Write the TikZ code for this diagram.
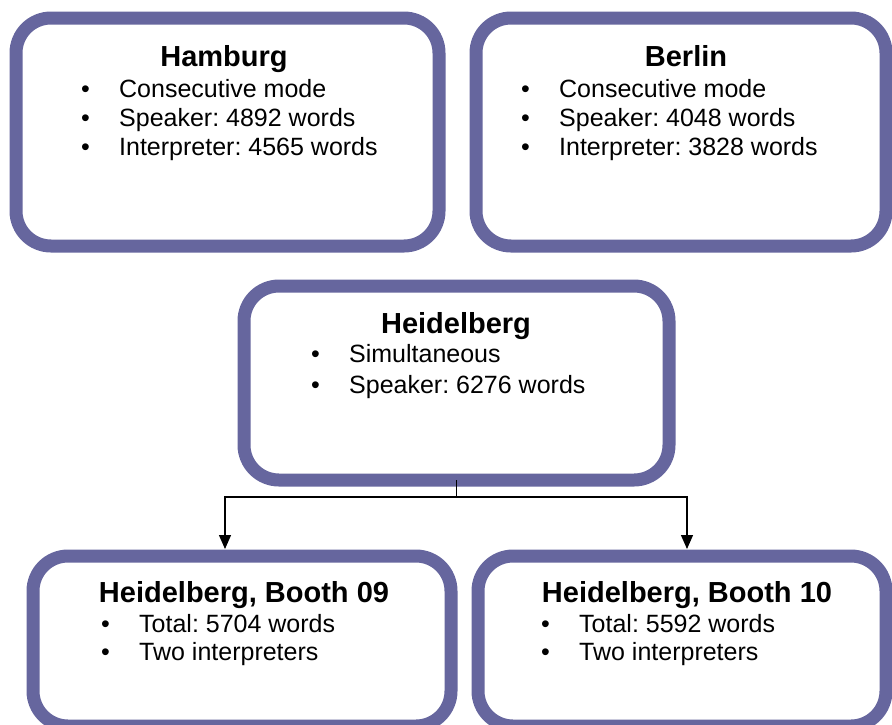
\documentclass[tikz,border=0pt]{standalone}
\usepackage{fontspec}
\setmainfont{Liberation Sans}
\usetikzlibrary{arrows.meta}
\definecolor{boxblue}{RGB}{102,102,158}
\frenchspacing
\tikzset{
  city/.style={draw=boxblue, line width=13pt, rounded corners=35pt, fill=white, inner sep=0pt, outer sep=0pt},
  heading/.style={font=\bfseries\fontsize{29}{34}\selectfont, anchor=base, inner sep=0pt},
  item/.style={font=\fontsize{25}{30}\selectfont, anchor=base west, inner sep=0pt},
  link/.style={line width=1.3pt, -{Triangle[width=12pt,length=14pt]}},
}
\newcommand{\bul}[1]{\makebox[38pt][l]{\textbullet}#1}
\begin{document}
\begin{tikzpicture}[x=1pt, y=-1pt]
      \useasboundingbox (0,0) rectangle (892,724);
      \clip (0,0) rectangle (892,724);
      % boxes
      \node[city, minimum width=423pt, minimum height=228pt] (hamburg) at (227.5,132) {};
      \node[city, minimum width=410pt, minimum height=228pt] (berlin) at (681,132) {};
      \node[city, minimum width=425pt, minimum height=194pt] (heidelberg) at (456.5,383) {};
      \node[city, minimum width=418pt, minimum height=170pt] (booth09) at (242,641) {};
      \node[city, minimum width=408pt, minimum height=170pt] (booth10) at (682,641) {};
      % texts
      \node[heading] (hamburg-t) at (224,66) {Hamburg};
      \node[item] (hamburg-1) at (81,97) {\bul{Consecutive mode}};
      \node[item] (hamburg-2) at (81,126) {\bul{Speaker: 4892 words}};
      \node[item] (hamburg-3) at (81,155) {\bul{Interpreter: 4565 words}};
      \node[heading] (berlin-t) at (686,66) {Berlin};
      \node[item] (berlin-1) at (521,97) {\bul{Consecutive mode}};
      \node[item] (berlin-2) at (521,126) {\bul{Speaker: 4048 words}};
      \node[item] (berlin-3) at (521,155) {\bul{Interpreter: 3828 words}};
      \node[heading] (heidelberg-t) at (456,333) {Heidelberg};
      \node[item] (heidelberg-1) at (311,362) {\bul{Simultaneous}};
      \node[item] (heidelberg-2) at (311,393) {\bul{Speaker: 6276 words}};
      \node[heading] (booth09-t) at (244,602) {Heidelberg, Booth 09};
      \node[item] (booth09-1) at (101,632) {\bul{Total: 5704 words}};
      \node[item] (booth09-2) at (101,660) {\bul{Two interpreters}};
      \node[heading] (booth10-t) at (687,602) {Heidelberg, Booth 10};
      \node[item] (booth10-1) at (541,632) {\bul{Total: 5592 words}};
      \node[item] (booth10-2) at (541,660) {\bul{Two interpreters}};
      % connectors
      \coordinate (split) at (456.5,497);
      \coordinate (in09) at (225,549);
      \coordinate (in10) at (687,549);
      \draw[line width=1.3pt] (heidelberg.south) -- (split);
      \draw[link] (split) -| (in09);
      \draw[link] (split) -| (in10);
\end{tikzpicture}
\end{document}
